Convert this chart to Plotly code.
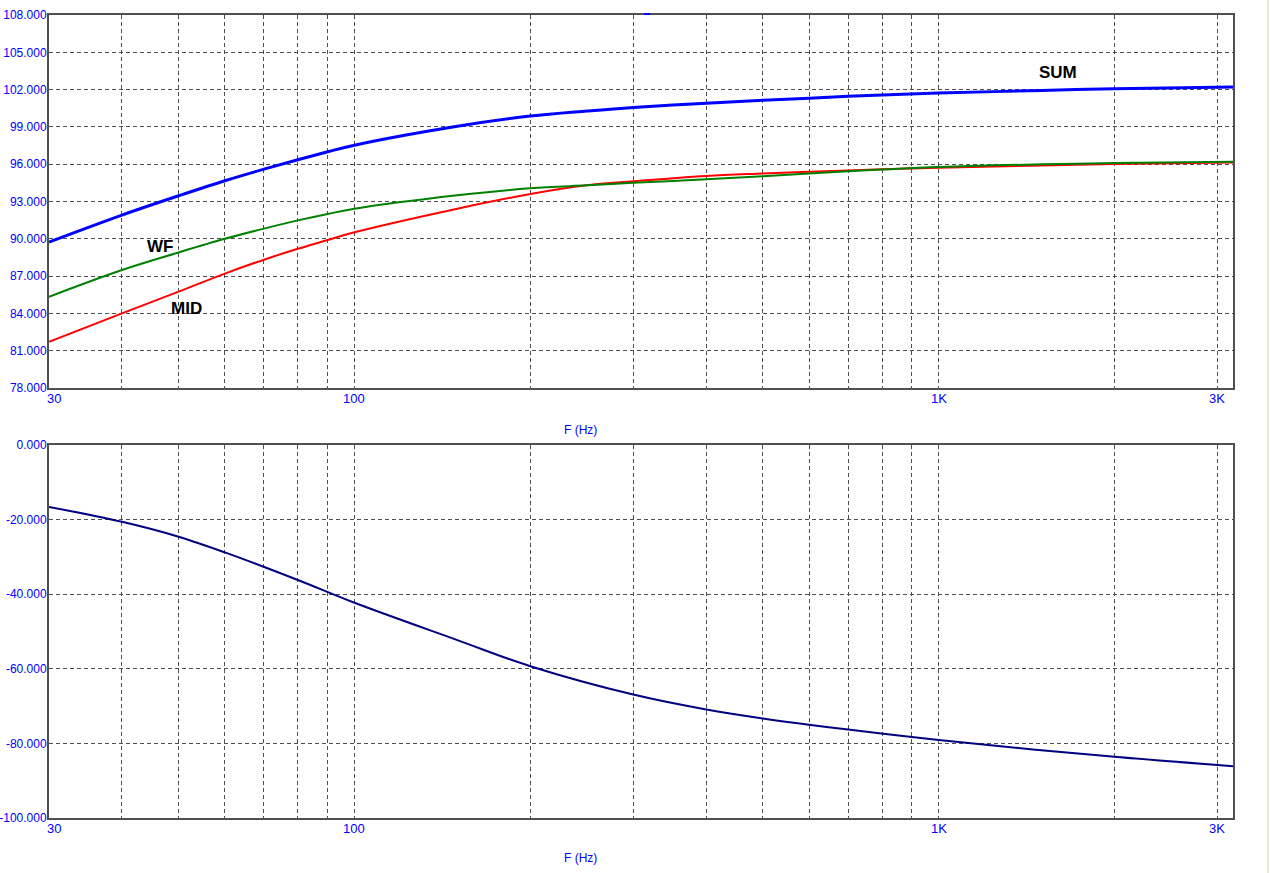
import math
import plotly.graph_objects as go

# ---- data ----
freq_top = [30, 40, 50, 60, 70, 80, 90, 100, 150, 200, 250, 300, 400, 500, 600, 700, 800, 1000, 1500, 2000, 3190]
sum_db = [89.74, 91.91, 93.46, 94.67, 95.6, 96.36, 97.0, 97.53, 99.05, 99.87, 100.28, 100.57, 100.9, 101.14,
          101.31, 101.46, 101.57, 101.72, 101.93, 102.07, 102.2]
wf_db = [85.34, 87.49, 88.9, 90.0, 90.82, 91.48, 92.0, 92.42, 93.5, 94.06, 94.3, 94.5, 94.78, 95.03, 95.25,
         95.43, 95.57, 95.78, 95.99, 96.09, 96.2]
mid_db = [81.72, 84.0, 85.75, 87.2, 88.32, 89.2, 89.9, 90.52, 92.42, 93.6, 94.3, 94.62, 95.05, 95.25, 95.4,
          95.5, 95.59, 95.72, 95.9, 96.02, 96.14]

freq_phase = [30, 40, 50, 60, 80, 100, 150, 200, 300, 400, 500, 700, 1000, 2000, 3190]
phase = [-16.6, -20.6, -24.6, -28.8, -36.2, -42.3, -52.3, -59.3, -66.9, -70.9, -73.3, -76.3, -79.1, -83.6, -86.1]

x_grid = [30, 40, 50, 60, 70, 80, 90, 100, 200, 300, 400, 500, 600, 700, 800, 900, 1000, 2000, 3000]
x_label_vals = [30, 100, 1000, 3000]
x_label_text = ["30", "100", "1K", "3K"]
top_ticks = [78, 81, 84, 87, 90, 93, 96, 99, 102, 105, 108]
bot_ticks = [-100, -80, -60, -40, -20, 0]

curve_labels = [("SUM", 1600, 103.4), ("WF", 46.5, 89.4), ("MID", 51.6, 84.4)]

FRAME = "#505050"
GRID = "#505050"
BLUE = "#0000FF"
FONT = "Liberation Sans"

fig = go.Figure()
fig.add_trace(go.Scatter(x=freq_top, y=mid_db, mode="lines", line=dict(color="#FF0000", width=2, shape="spline"),
                         xaxis="x", yaxis="y", showlegend=False))
fig.add_trace(go.Scatter(x=freq_top, y=wf_db, mode="lines", line=dict(color="#008000", width=2, shape="spline"),
                         xaxis="x", yaxis="y", showlegend=False))
fig.add_trace(go.Scatter(x=freq_top, y=sum_db, mode="lines", line=dict(color="#0000FF", width=3, shape="spline"),
                         xaxis="x", yaxis="y", showlegend=False))
fig.add_trace(go.Scatter(x=freq_phase, y=phase, mode="lines", line=dict(color="#000080", width=2, shape="spline"),
                         xaxis="x2", yaxis="y2", showlegend=False))

xr = [math.log10(30), math.log10(3190)]

common_x = dict(type="log", range=xr, tickvals=x_grid, showticklabels=False, showgrid=True,
                gridcolor=GRID, gridwidth=1, griddash="4px,3px", showline=True, mirror=True,
                linecolor=FRAME, linewidth=2, ticks="", automargin=False, zeroline=False)
common_y = dict(showgrid=True, gridcolor=GRID, gridwidth=1, griddash="4px,3px", showline=True,
                mirror=True, linecolor=FRAME, linewidth=2, ticks="", automargin=False, zeroline=False,
                ticklabelstandoff=-2,
                tickfont=dict(family=FONT, size=12, color=BLUE))

top_dom = [0.5355, 1]
bot_dom = [0, 0.4645]

fig.update_layout(
    width=1270, height=873,
    template="none",
    paper_bgcolor="white", plot_bgcolor="white",
    margin=dict(l=49, r=37, t=15, b=55),
    hovermode=False,
    xaxis=dict(common_x, domain=[0, 1], anchor="y"),
    yaxis=dict(common_y, domain=top_dom, range=[78, 108], tickvals=top_ticks,
               ticktext=[f"{v:.3f}" for v in top_ticks], anchor="x"),
    xaxis2=dict(common_x, domain=[0, 1], anchor="y2"),
    yaxis2=dict(common_y, domain=bot_dom, range=[-100, 0], tickvals=bot_ticks,
                ticktext=[f"{v:.3f}" for v in bot_ticks], anchor="x2"),
)

# x tick labels (first one left-aligned, as in the reference)
for xref, dom in [("x", top_dom), ("x2", bot_dom)]:
    for i, (v, t) in enumerate(zip(x_label_vals, x_label_text)):
        fig.add_annotation(xref=xref, yref="paper", x=math.log10(v), y=dom[0], text=t, showarrow=False,
                           font=dict(family=FONT, size=13, color=BLUE),
                           xanchor="left" if i == 0 else "center", yanchor="top", yshift=-1,
                           xshift=-4 if i == 0 else 0)

# axis titles
for yp in [0.4832, -0.0498]:
    fig.add_annotation(xref="paper", yref="paper", x=0.4485, y=yp, text="F (Hz)", showarrow=False,
                       font=dict(family=FONT, size=12, color=BLUE), xanchor="center", yanchor="middle")

# curve labels
for txt, fx, fy in curve_labels:
    fig.add_annotation(xref="x", yref="y", x=math.log10(fx), y=fy, text=f"<b>{txt}</b>", showarrow=False,
                       font=dict(family=FONT, size=17, color="black"), xanchor="center", yanchor="middle")

# small cursor marker on top border and right window edge
fig.add_shape(type="line", xref="paper", yref="paper", x0=0.5025, x1=0.5076, y0=1.0012, y1=1.0012,
              line=dict(color=BLUE, width=2))
fig.add_shape(type="line", xref="paper", yref="paper", x0=1.0296, x1=1.0296, y0=-0.07, y1=1.02,
              line=dict(color="#ECE9D8", width=2))

fig.write_html("out.html", config={"displayModeBar": False, "staticPlot": True},
               post_script="document.body.style.margin='0';")
